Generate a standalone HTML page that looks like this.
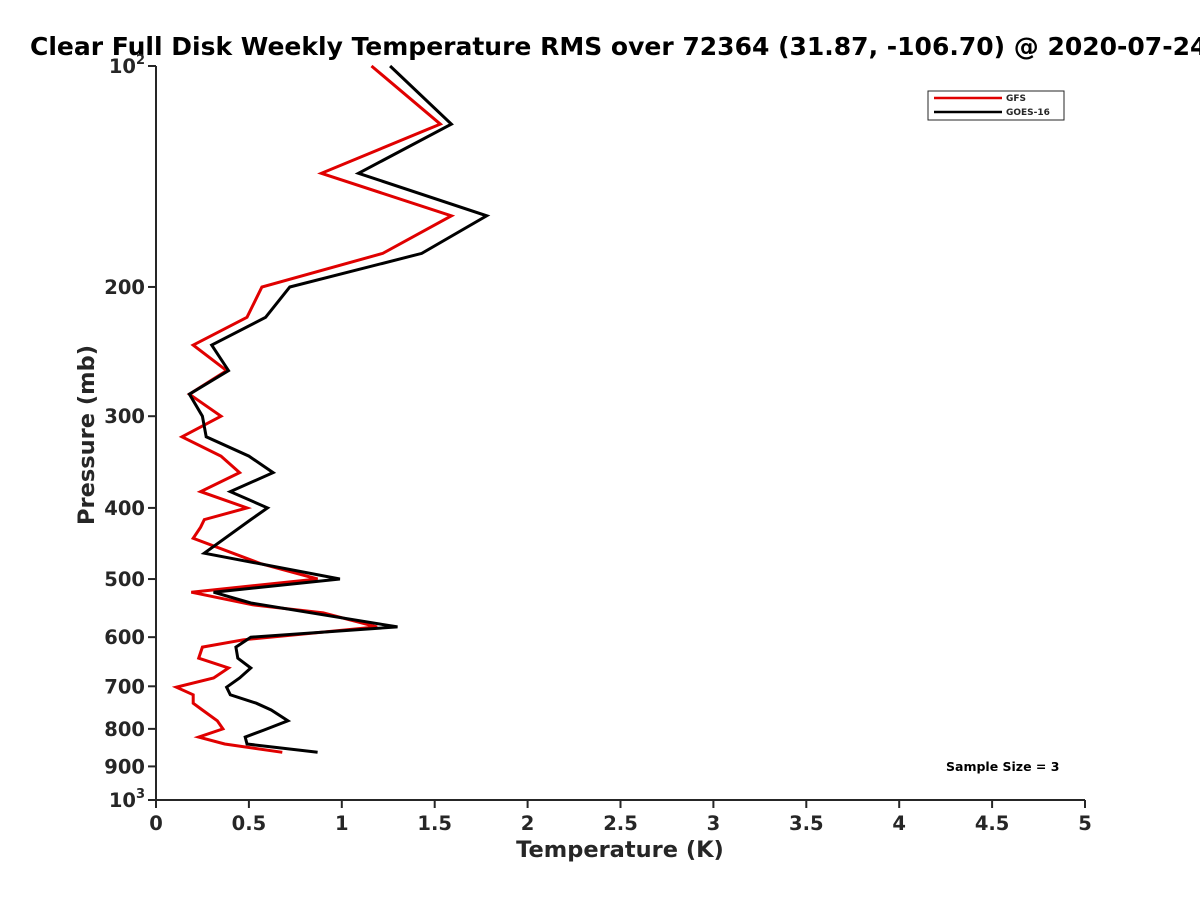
<!DOCTYPE html>
<html><head><meta charset="utf-8"><style>
body{margin:0;background:#fff;overflow:hidden;}
svg text{font-family:"DejaVu Sans","Liberation Sans",sans-serif;font-weight:bold;fill:#262626;}
</style></head><body>
<svg id="chart" width="1200" height="900" viewBox="0 0 1200 900" xmlns="http://www.w3.org/2000/svg">
<rect width="1200" height="900" fill="#fff"/>
<text x="30" y="55" font-size="25" style="fill:#000">Clear Full Disk Weekly Temperature RMS over 72364 (31.87, -106.70) @ 2020-07-24</text>
<g id="axes"></g>
<g id="series"></g>
<text x="620" y="857" font-size="22.5" text-anchor="middle">Temperature (K)</text>
<text transform="translate(94,435) rotate(-90)" font-size="22.5" text-anchor="middle">Pressure (mb)</text>
<g>
<rect x="928" y="91" width="136" height="29" fill="#fff" stroke="#262626" stroke-width="1"/>
<line x1="934" y1="98" x2="1002" y2="98" stroke="#e00000" stroke-width="2.5"/>
<text x="1006" y="101" font-size="9">GFS</text>
<line x1="934" y1="112" x2="1002" y2="112" stroke="#000" stroke-width="2.5"/>
<text x="1006" y="115" font-size="9">GOES-16</text>
</g>
<text x="946" y="771" font-size="12.5" style="fill:#000">Sample Size = 3</text>
</svg>
<script>
const xTicks=[0,0.5,1,1.5,2,2.5,3,3.5,4,4.5,5];
const yTicks=[100,200,300,400,500,600,700,800,900,1000];
const gfsPres=[100,120,140,160,180,200,220,240,260,280,300,320,340,358,380,400,415,425,440,476,500,521,542,556,581,605,619,641,661,682,702,719,738,754,780,800,821,839,861];
const gfsTemp=[1.16,1.53,0.89,1.59,1.22,0.57,0.49,0.20,0.38,0.18,0.35,0.14,0.35,0.45,0.24,0.49,0.26,0.24,0.20,0.56,0.87,0.19,0.52,0.90,1.19,0.47,0.25,0.23,0.39,0.31,0.11,0.20,0.20,0.25,0.33,0.36,0.23,0.37,0.68];
const goesPres=[100,120,140,160,180,200,220,240,260,280,300,320,340,358,380,400,415,461,500,521,539,581,600,619,641,661,682,702,719,738,754,780,803,821,839,861];
const goesTemp=[1.26,1.59,1.09,1.78,1.43,0.72,0.59,0.30,0.39,0.18,0.25,0.27,0.50,0.63,0.40,0.60,0.51,0.26,0.99,0.31,0.51,1.30,0.51,0.43,0.44,0.51,0.45,0.38,0.40,0.54,0.62,0.71,0.58,0.48,0.49,0.87];
const X0=156,X1=1085,Y0=66,Y1=800;
const xs=v=>X0+(v-0)/(5-0)*(X1-X0);
const ys=p=>Y0+Math.log10(p/100)*(Y1-Y0);
const NS="http://www.w3.org/2000/svg";
const axes=document.getElementById('axes');
function mk(tag,attrs,parent){const e=document.createElementNS(NS,tag);for(const k in attrs)e.setAttribute(k,attrs[k]);parent.appendChild(e);return e;}
const yl=mk('line',{x1:X0,y1:Y0,x2:X0,y2:Y1,stroke:'#262626','stroke-width':2},axes);


const xl=mk('line',{x1:X0,y1:Y1,x2:X1,y2:Y1,stroke:'#262626','stroke-width':2},axes);


xTicks.forEach(t=>{
  const tk=mk('line',{x1:xs(t),y1:Y1,x2:xs(t),y2:Y1+8,stroke:'#262626','stroke-width':2},axes);
  
  
  const tx=mk('text',{x:xs(t),y:Y1+30,'font-size':19.5,'text-anchor':'middle'},axes);
  tx.textContent=String(t);
  
  
});
yTicks.forEach(p=>{
  const tk=mk('line',{x1:X0-8,y1:ys(p),x2:X0,y2:ys(p),stroke:'#262626','stroke-width':2},axes);
  
  
  const tx=mk('text',{x:X0-11,y:ys(p)+7,'font-size':19.5,'text-anchor':'end'},axes);
  if(p===100){tx.innerHTML='10<tspan font-size="13" dy="-9">2</tspan>';}
  else if(p===1000){tx.innerHTML='10<tspan font-size="13" dy="-9">3</tspan>';}
  else tx.textContent=String(p);
  
  
});
const ser=document.getElementById('series');
function line(pres,temp,color,name){
  const d=pres.map((p,i)=>(i?'L':'M')+xs(temp[i]).toFixed(1)+','+ys(p).toFixed(1)).join('');
  const pth=mk('path',{d:d,fill:'none',stroke:color,'stroke-width':3,'stroke-linejoin':'miter'},ser);
  
  
}
line(gfsPres,gfsTemp,'#e00000','gfs-line');
line(goesPres,goesTemp,'#000000','goes16-line');
</script>
</body></html>
